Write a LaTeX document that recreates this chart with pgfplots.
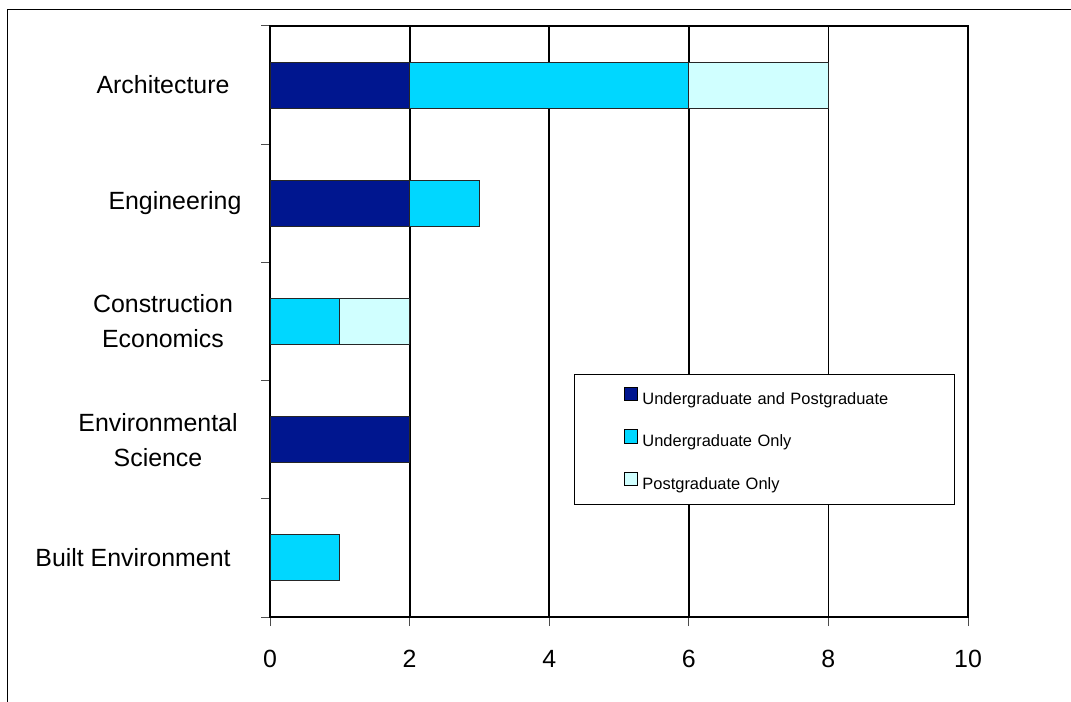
\documentclass[border=0pt]{standalone}
\usepackage{pgfplots}
\pgfplotsset{compat=1.18}
\usepackage{fontspec}
\setmainfont{Liberation Sans}
\definecolor{cNavy}{RGB}{0,22,143}
\definecolor{cCyan}{RGB}{0,215,255}
\definecolor{cLight}{RGB}{208,255,255}
\begin{document}
\begin{tikzpicture}
\useasboundingbox (0,0) rectangle (1071bp,702bp);
\clip (0,0) rectangle (1071bp,702bp);
\fill[white] (0,0) rectangle (1071bp,702bp);
\draw[line width=1.8bp] (7.5bp,-40bp) rectangle (1100bp,692.5bp);
\begin{axis}[
  at={(270bp,85bp)}, anchor=south west,
  scale only axis, width=698bp, height=591bp,
  xbar stacked, bar width=0.39,
  xmin=0, xmax=10, ymin=-0.5, ymax=4.5,
  xtick={0,2,...,10},
  ytick={-0.5,0.5,...,4.5}, yticklabels={},
  extra y ticks={0,1,2,3,4},
  extra y tick labels={{\hspace*{-60bp}Built Environment},{\hspace*{-10bp}Environmental\\\hspace*{-10bp}Science},{Construction\\Economics},{\hspace*{24bp}Engineering},{Architecture}},
  extra y tick style={major tick length=0pt, yticklabel style={anchor=center, align=center, xshift=-107bp}},
  xtick pos=bottom, ytick pos=left,
  tick align=outside, major tick length=9bp,
  xmajorgrids, major grid style={black, line width=1.8bp},
  axis line style={black, line width=1.8bp},
  every tick/.style={black!70, line width=1bp},
  /pgf/number format/assume math mode=true,
  tick label style={font=\fontsize{25}{35}\selectfont},
  xticklabel style={anchor=base, yshift=-41bp},
  every axis plot/.append style={draw=black!85, line width=1bp},
  legend cell align=left,
  legend image code/.code={
    \path[draw=none, fill=none] (0bp,-1bp) rectangle (68bp,12.5bp);
    \draw[#1, draw=black, line width=0.8bp] (50bp,-1bp) rectangle (63bp,12.5bp);
  },
  legend style={at={(0.4355,0.1895)}, anchor=south west, draw=black, line width=1bp,
    inner xsep=0pt, inner ysep=12bp, row sep=21.5bp,
    font=\fontsize{16.5}{19}\selectfont,
    nodes={inner sep=0pt, text width=312bp, text height=12.5bp, text depth=3.5bp}},
]
\addplot[fill=cNavy] coordinates {(0,0) (2,1) (0,2) (2,3) (2,4)};
\addplot[fill=cCyan] coordinates {(1,0) (0,1) (1,2) (1,3) (4,4)};
\addplot[fill=cLight] coordinates {(0,0) (0,1) (1,2) (0,3) (2,4)};
\legend{Undergraduate and Postgraduate, Undergraduate Only, Postgraduate Only}
\end{axis}
\end{tikzpicture}
\end{document}
